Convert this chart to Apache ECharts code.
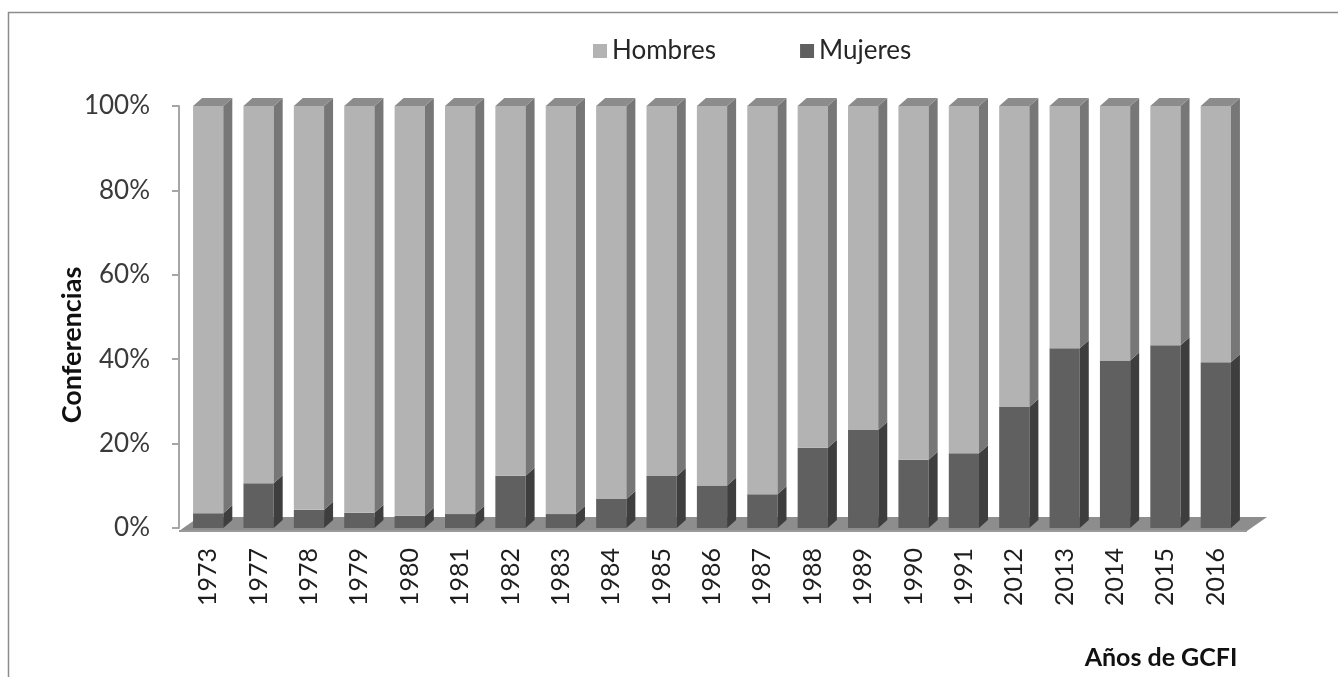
<!DOCTYPE html>
<html>
<head>
<meta charset="utf-8">
<script src="https://cdn.jsdelivr.net/npm/echarts@6/dist/echarts.min.js"></script>
<style>
  html, body { margin: 0; padding: 0; background: #fff; }
  #chart { width: 1338px; height: 677px; }
</style>
</head>
<body>
<div id="chart"></div>
<script>
// years of GCFI and share (%) of talks by sex
const years = ["1973", "1977", "1978", "1979", "1980", "1981", "1982", "1983", "1984", "1985", "1986",
  "1987", "1988", "1989", "1990", "1991", "2012", "2013", "2014", "2015", "2016"];
const mujeres = [3.5, 10.6, 4.3, 3.6, 2.9, 3.3, 12.4, 3.3, 6.9, 12.3, 10.1,
  8.0, 19.0, 23.2, 16.2, 17.7, 28.7, 42.6, 39.7, 43.3, 39.3];
const hombres = [96.5, 89.4, 95.7, 96.4, 97.1, 96.7, 87.6, 96.7, 93.1, 87.7, 89.9,
  92.0, 81.0, 76.8, 83.8, 82.3, 71.3, 57.4, 60.3, 56.7, 60.7];
const yTicks = [0, 20, 40, 60, 80, 100];

const DX = 9, DY = 8; // fake 3d depth

function segment(front, side, top, withTop) {
  return function (params, api) {
    const i = api.value(0);
    const lo = api.coord([i, api.value(1)]);
    const hi = api.coord([i, api.value(2)]);
    const w = api.size([1, 0])[0] * 0.6;
    const x0 = lo[0] - w / 2, x1 = lo[0] + w / 2;
    const kids = [
      { type: "rect", shape: { x: x0, y: hi[1], width: w, height: lo[1] - hi[1] }, style: { fill: front } },
      { type: "polygon", shape: { points: [[x1, lo[1]], [x1 + DX, lo[1] - DY], [x1 + DX, hi[1] - DY], [x1, hi[1]]] }, style: { fill: side } }
    ];
    if (withTop) {
      kids.push({ type: "polygon", shape: { points: [[x0, hi[1]], [x0 + DX, hi[1] - DY], [x1 + DX, hi[1] - DY], [x1, hi[1]]] }, style: { fill: top } });
    }
    return { type: "group", children: kids };
  };
}

function floor(params, api) {
  const a = api.coord([0, 0]);
  const b = api.coord([years.length - 1, 0]);
  const half = api.size([1, 0])[0] / 2;
  const xl = a[0] - half - 4, xr = b[0] + half + 6, y = a[1] + 3;
  return {
    type: "group",
    children: [
      { type: "polygon", shape: { points: [[xl, y], [xr, y], [xr + 20, y - 14], [xl + 20, y - 14]] }, style: { fill: "#8d8d8d" } },
      { type: "line", shape: { x1: xl, y1: y, x2: xr, y2: y }, style: { stroke: "#9a9a9a", lineWidth: 2 } }
    ]
  };
}

const chart = echarts.init(document.getElementById("chart"));
const font = "Lato, 'Open Sans', sans-serif";

chart.setOption({
  animation: false,
  textStyle: { fontFamily: font },
  legend: {
    left: 588, top: 33,
    itemWidth: 14, itemHeight: 14, itemGap: 84,
    icon: "rect",
    textStyle: { fontSize: 26, color: "#262626", fontFamily: font },
    data: ["Hombres", "Mujeres"]
  },
  grid: { left: 183, right: 97, top: 106, bottom: 149 },
  xAxis: {
    type: "category",
    data: years,
    axisLine: { show: false },
    axisTick: { show: false },
    axisLabel: { rotate: 90, margin: 20, fontSize: 25, color: "#1e1e1e", fontFamily: font }
  },
  yAxis: {
    type: "value",
    min: 0, max: 100, interval: 20,
    offset: 4,
    axisLine: { show: true, lineStyle: { color: "#a6a6a6", width: 2 } },
    axisTick: { show: true, length: 7, lineStyle: { color: "#a6a6a6", width: 2 } },
    splitLine: { show: false },
    axisLabel: {
      margin: 29, fontSize: 26, color: "#3a3a3a", fontFamily: font,
      formatter: (v) => (yTicks.includes(v) ? v + "%" : "")
    }
  },
  graphic: [
    { type: "rect", shape: { x: 8.5, y: 12.5, width: 1345, height: 700 }, style: { fill: "none", stroke: "#8c8c8c", lineWidth: 1.5 }, silent: true },
    { type: "text", x: 72, y: 345, rotation: Math.PI / 2, style: { text: "Conferencias", font: "bold 27px " + font, fill: "#111", textAlign: "center", textVerticalAlign: "middle" } },
    { type: "text", x: 1161, y: 658, style: { text: "Años de GCFI", font: "bold 25px " + font, fill: "#111", textAlign: "center", textVerticalAlign: "middle" } }
  ],
  series: [
    { type: "custom", name: "floor", z: 1, renderItem: floor, data: [[0, 0]], silent: true },
    {
      type: "custom", name: "Mujeres", z: 2,
      itemStyle: { color: "#606060" },
      encode: { x: 0, y: [1, 2] },
      renderItem: segment("#606060", "#3e3e3e", "#4a4a4a", false),
      data: years.map((y, i) => [i, 0, mujeres[i]])
    },
    {
      type: "custom", name: "Hombres", z: 3,
      itemStyle: { color: "#b3b3b3" },
      encode: { x: 0, y: [1, 2] },
      renderItem: segment("#b3b3b3", "#777777", "#8c8c8c", true),
      data: years.map((y, i) => [i, mujeres[i], mujeres[i] + hombres[i]])
    }
  ]
});
</script>
</body>
</html>
